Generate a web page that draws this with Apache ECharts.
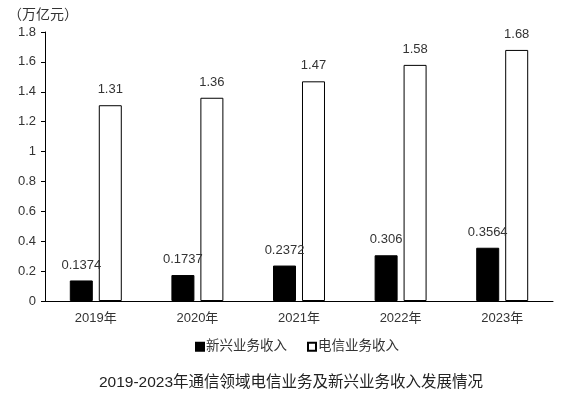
<!DOCTYPE html>
<html><head><meta charset="utf-8">
<script src="https://cdn.jsdelivr.net/npm/echarts@6/dist/echarts.min.js"></script>
<style>html,body{margin:0;padding:0;background:#fff}#c{width:582px;height:395px}</style>
</head><body><div id="c"></div>
<script>
var categories = ['2019年','2020年','2021年','2022年','2023年'];
var emergingRevenue = [0.1374, 0.1737, 0.2372, 0.306, 0.3564];
var telecomRevenue = [1.31, 1.36, 1.47, 1.58, 1.68];
var seriesNames = ['新兴业务收入','电信业务收入'];
var unitLabel = '（万亿元）';
var titleText = '2019-2023年通信领域电信业务及新兴业务收入发展情况';
var FONT = '"Liberation Sans", "Noto Sans CJK SC", sans-serif';
var TXT = '#333';
var chart = echarts.init(document.getElementById('c'));
chart.setOption({
  animation: false,
  textStyle: {fontFamily: FONT, color: TXT},
  title: {text: titleText, left: 'center', top: 370, textStyle: {fontSize: 15.5, fontWeight: 'normal', color: '#222', fontFamily: FONT}},
  graphic: [{type: 'text', left: 8, top: 8, style: {text: unitLabel, fontSize: 14, fill: TXT, fontFamily: FONT}}],
  legend: {
    top: 335, left: 190, itemWidth: 8, itemHeight: 8, itemGap: 20, icon: 'rect',
    textStyle: {fontSize: 13.5, color: TXT, fontFamily: FONT, padding: [0,0,0,-3]},
    data: seriesNames
  },
  grid: {left: 45, right: 29, top: 32, bottom: 94},
  xAxis: {
    type: 'category', data: categories,
    axisLine: {lineStyle: {color: '#000', width: 1}},
    axisTick: {show: false},
    axisLabel: {color: TXT, fontSize: 13, margin: 11, fontFamily: FONT}
  },
  yAxis: {
    type: 'value', min: 0, max: 1.8, interval: 0.2,
    axisLine: {show: true, lineStyle: {color: '#000'}},
    axisTick: {show: true, length: 4, lineStyle: {color: '#000'}},
    splitLine: {show: false},
    axisLabel: {color: TXT, fontSize: 13, margin: 9, fontFamily: FONT,
      formatter: function (v) { return String(Math.round(v * 10) / 10); }}
  },
  series: [
    {name: seriesNames[0], type: 'bar', data: emergingRevenue, barWidth: 23, barGap: '26%',
      itemStyle: {color: '#000', borderColor: '#000', borderWidth: 1},
      label: {show: true, position: 'top', distance: 9, color: TXT, fontSize: 13, fontFamily: FONT}},
    {name: seriesNames[1], type: 'bar', data: telecomRevenue, barWidth: 23,
      itemStyle: {color: '#fff', borderColor: '#000', borderWidth: 1},
      label: {show: true, position: 'top', distance: 9, color: TXT, fontSize: 13, fontFamily: FONT}}
  ]
});
</script></body></html>
